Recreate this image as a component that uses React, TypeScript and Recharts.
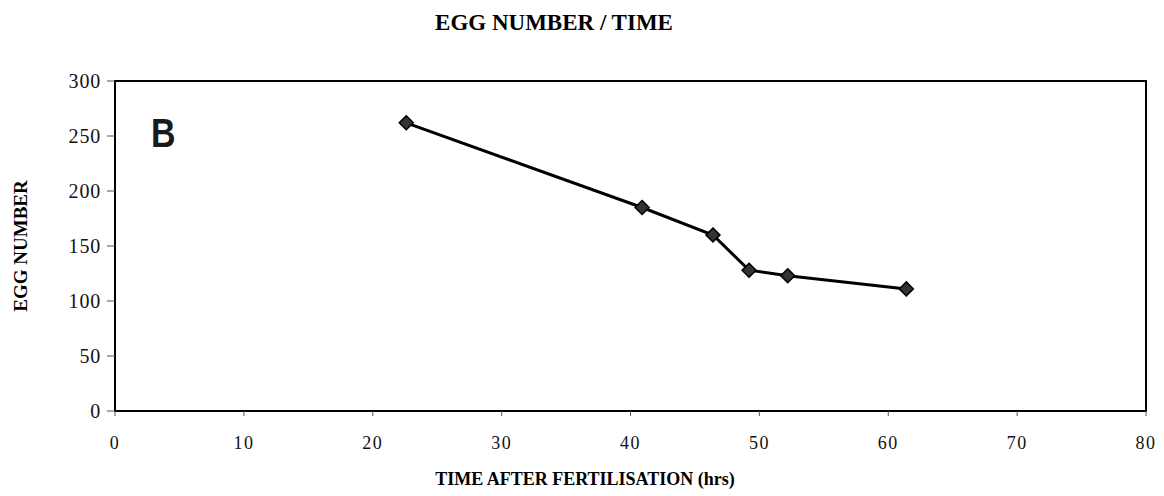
import React from "react";
import { LineChart, Line, XAxis, YAxis, ReferenceArea } from "recharts";

const times = [22.6, 40.9, 46.4, 49.2, 52.2, 61.4];
const eggNumbers = [262, 185, 160, 128, 123, 111];
const xTicks = [0, 10, 20, 30, 40, 50, 60, 70, 80];
const yTicks = [0, 50, 100, 150, 200, 250, 300];

const data = times.map((t, i) => ({ t, eggs: eggNumbers[i] }));

const Diamond = (props: any) => {
  const { cx, cy } = props;
  if (cx == null || cy == null) return null;
  const r = 7;
  return (
    <path
      d={`M${cx},${cy - r}L${cx + r},${cy}L${cx},${cy + r}L${cx - r},${cy}Z`}
      fill="#333"
      stroke="#000"
      strokeWidth={1.5}
    />
  );
};

const serif = "'Liberation Serif', 'Times New Roman', serif";

export default function App() {
  return (
    <div style={{ position: "absolute", left: 0, top: 0, width: 1164, height: 496, background: "#fff" }}>
      <LineChart
        width={1164}
        height={496}
        data={data}
        margin={{ top: 81, right: 18, bottom: 55, left: 55 }}
      >
        <XAxis
          dataKey="t"
          type="number"
          domain={[0, 80]}
          ticks={xTicks}
          interval={0}
          height={30}
          axisLine={{ stroke: "#000", strokeWidth: 2 }}
          tickLine={{ stroke: "#555", strokeWidth: 1 }}
          tickSize={5}
          tick={{ fill: "#111", fontSize: 18, fontFamily: serif, letterSpacing: 1.5 }}
          tickMargin={20}
        />
        <YAxis
          type="number"
          domain={[0, 300]}
          ticks={yTicks}
          interval={0}
          width={60}
          axisLine={{ stroke: "#000", strokeWidth: 2 }}
          tickLine={{ stroke: "#555", strokeWidth: 1 }}
          tickSize={8}
          tick={{ fill: "#111", fontSize: 20, fontFamily: serif, letterSpacing: 0.8 }}
          tickMargin={6}
        />
        <ReferenceArea x1={0} x2={80} y1={0} y2={300} fill="none" stroke="#000" strokeWidth={2} ifOverflow="visible" />
        <Line
          dataKey="eggs"
          stroke="#000"
          strokeWidth={3}
          dot={<Diamond />}
          activeDot={false}
          isAnimationActive={false}
        />
      </LineChart>
      <div
        style={{
          position: "absolute",
          left: 554,
          top: 10,
          transform: "translateX(-50%)",
          fontFamily: serif,
          fontWeight: "bold",
          fontSize: 23,
          whiteSpace: "nowrap",
          color: "#000",
        }}
      >
        EGG NUMBER / TIME
      </div>
      <div
        style={{
          position: "absolute",
          left: 151,
          top: 113,
          fontFamily: "'Liberation Sans', Arial, sans-serif",
          fontWeight: "bold",
          fontSize: 40,
          color: "#1a1a1a",
          lineHeight: 1,
          transform: "scaleX(0.85)",
          transformOrigin: "left top",
        }}
      >
        B
      </div>
      <div
        style={{
          position: "absolute",
          left: 585,
          top: 469,
          transform: "translateX(-50%)",
          fontFamily: serif,
          fontWeight: "bold",
          fontSize: 18,
          whiteSpace: "nowrap",
          color: "#000",
        }}
      >
        TIME AFTER FERTILISATION (hrs)
      </div>
      <div
        style={{
          position: "absolute",
          left: 21,
          top: 246,
          transform: "translate(-50%, -50%) rotate(-90deg)",
          fontFamily: serif,
          fontWeight: "bold",
          fontSize: 19,
          whiteSpace: "nowrap",
          color: "#000",
        }}
      >
        EGG NUMBER
      </div>
    </div>
  );
}
